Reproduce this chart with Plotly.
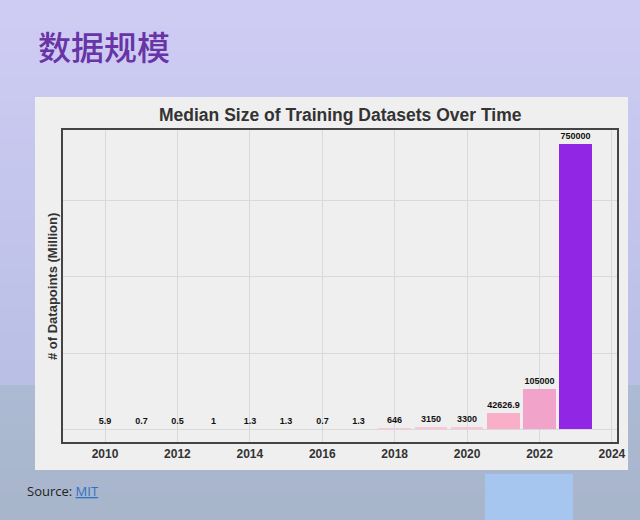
import plotly.graph_objects as go

years = [2010, 2011, 2012, 2013, 2014, 2015, 2016, 2017, 2018, 2019, 2020, 2021, 2022, 2023]
values = [5.9, 0.7, 0.5, 1, 1.3, 1.3, 0.7, 1.3, 646, 3150, 3300, 42626.9, 105000, 750000]
labels = ["5.9", "0.7", "0.5", "1", "1.3", "1.3", "0.7", "1.3", "646", "3150", "3300", "42626.9", "105000", "750000"]
bar_colors = ["#FBC6D8"] * 11 + ["#F9AFC8", "#F1A3CA", "#9127E4"]

REF_W, REF_H = 640, 520
W, H = 649, 520

def px(x):
    return x / REF_W

def py(y):
    return 1 - y / REF_H

def lerp(c1, c2, t):
    a = [int(c1[i:i + 2], 16) for i in (1, 3, 5)]
    b = [int(c2[i:i + 2], 16) for i in (1, 3, 5)]
    return "#%02x%02x%02x" % tuple(round(a[k] + (b[k] - a[k]) * t) for k in range(3))

shapes = []
N = 30
for i in range(N):
    y0 = 385 * i / N
    y1 = 385 * (i + 1) / N + 0.5
    shapes.append(dict(type="rect", xref="paper", yref="paper", x0=0, x1=1,
                       y0=py(y1), y1=py(y0), line=dict(width=0),
                       fillcolor=lerp("#CFCCF4", "#B9BFE5", i / (N - 1)), layer="below"))
M = 10
for i in range(M):
    y0 = 385 + 135 * i / M
    y1 = 385 + 135 * (i + 1) / M + 0.5
    shapes.append(dict(type="rect", xref="paper", yref="paper", x0=0, x1=1,
                       y0=py(y1), y1=py(y0), line=dict(width=0),
                       fillcolor=lerp("#ACBAD3", "#A8B5CB", i / (M - 1)), layer="below"))
shapes.append(dict(type="rect", xref="paper", yref="paper", x0=px(485), x1=px(573),
                   y0=0, y1=py(474), line=dict(width=0), fillcolor="#A6C5EF", layer="below"))
shapes.append(dict(type="rect", xref="paper", yref="paper", x0=px(35), x1=px(628),
                   y0=py(470), y1=py(97), line=dict(width=0), fillcolor="#EFEFEF", layer="below"))

fig = go.Figure()
fig.add_trace(go.Bar(
    x=years, y=values, width=0.9,
    marker=dict(color=bar_colors, line=dict(width=0)),
    text=labels, textposition="outside", cliponaxis=False,
    textfont=dict(family="Liberation Sans, Arial, sans-serif", size=9, color="#111111", weight="bold"),
    hoverinfo="x+y",
))

fig.update_layout(
    width=W, height=H, autosize=False,
    margin=dict(l=0, r=0, t=0, b=0),
    paper_bgcolor="#C4C6EC",
    plot_bgcolor="#EFEFEF",
    showlegend=False,
    shapes=shapes,
    bargap=0,
    xaxis=dict(
        domain=[px(63), px(617)],
        range=[2008.84, 2024.14],
        tick0=2010, dtick=2,
        showgrid=True, gridcolor="#D9D9D9", gridwidth=1,
        zeroline=False,
        showline=True, linecolor="#444444", linewidth=1.5, mirror=True,
        ticks="", ticklen=0,
        tickfont=dict(family="Liberation Sans, Arial, sans-serif", size=12, color="#333333", weight="bold"),
        fixedrange=True,
    ),
    yaxis=dict(
        domain=[py(442), py(130)],
        range=[-34200, 786800],
        tick0=0, dtick=200000,
        showgrid=True, gridcolor="#D9D9D9", gridwidth=1,
        zeroline=False,
        showticklabels=False,
        showline=True, linecolor="#444444", linewidth=1.5, mirror=True,
        fixedrange=True,
    ),
    annotations=[
        dict(text="数据规模", xref="paper", yref="paper", x=px(36), y=py(46),
             xanchor="left", yanchor="middle", showarrow=False,
             font=dict(family="Noto Sans CJK SC", size=33, color="#6834A6", weight=500)),
        dict(text="<b>Median Size of Training Datasets Over Time</b>", xref="paper", yref="paper",
             x=px(340), y=py(115), xanchor="center", yanchor="middle", showarrow=False,
             font=dict(family="Liberation Sans, Arial, sans-serif", size=17.5, color="#333333")),
        dict(text="<b># of Datapoints (Million)</b>", xref="paper", yref="paper",
             x=px(52), y=py(287), xanchor="center", yanchor="middle", textangle=-90, showarrow=False,
             font=dict(family="Liberation Sans, Arial, sans-serif", size=13, color="#333333")),
        dict(text="Source: <span style='color:#2F72C6'><u>MIT</u></span>", xref="paper", yref="paper",
             x=px(25), y=py(491), xanchor="left", yanchor="middle", showarrow=False,
             font=dict(family="Open Sans, Noto Sans, sans-serif", size=13, color="#222222")),
    ],
)

fig.write_html(
    "out.html",
    config={"displayModeBar": False, "responsive": False},
    default_width="649px", default_height="520px",
    post_script="document.body.style.margin='0';document.body.style.overflow='hidden';",
)
